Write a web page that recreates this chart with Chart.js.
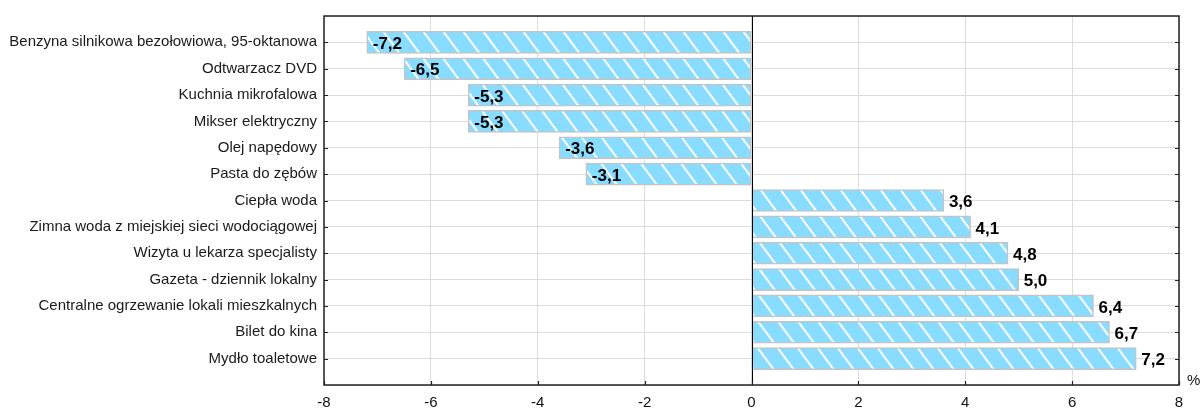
<!DOCTYPE html>
<html>
<head>
<meta charset="utf-8">
<script src="https://cdn.jsdelivr.net/npm/chart.js@4/dist/chart.umd.min.js"></script>
<style>
  html, body { margin: 0; padding: 0; background: #fff; }
  #wrap { width: 1201px; height: 408px; }
</style>
</head>
<body>
<div id="wrap"><canvas id="priceChart" width="1201" height="408"></canvas></div>
<script>
// Categories and values (% change)
const categories = [
    'Benzyna silnikowa bezołowiowa, 95-oktanowa',
    'Odtwarzacz DVD',
    'Kuchnia mikrofalowa',
    'Mikser elektryczny',
    'Olej napędowy',
    'Pasta do zębów',
    'Ciepła woda',
    'Zimna woda z miejskiej sieci wodociągowej',
    'Wizyta u lekarza specjalisty',
    'Gazeta - dziennik lokalny',
    'Centralne ogrzewanie lokali mieszkalnych',
    'Bilet do kina',
    'Mydło toaletowe'
];
const values = [-7.2, -6.5, -5.3, -5.3, -3.6, -3.1, 3.6, 4.1, 4.8, 5.0, 6.4, 6.7, 7.2];
const xTicks = [-8, -6, -4, -2, 0, 2, 4, 6, 8];
const unitLabel = '%';

// blank slot above and below, like the original axis
const paddedLabels = [''].concat(categories, ['']);
const paddedValues = [null].concat(values, [null]);

const FONT = '"Liberation Sans", Arial, sans-serif';
const barBlue = '#88dcff';

// striped fill
function makeStripes() {
    const w = 20, h = 27;
    const c = document.createElement('canvas');
    c.width = w; c.height = h;
    const g = c.getContext('2d');
    g.fillStyle = barBlue;
    g.fillRect(0, 0, w, h);
    g.strokeStyle = '#ffffff';
    g.lineWidth = 2;
    [-w, 0, w].forEach(function(off) {
        g.beginPath();
        g.moveTo(off - w, -h);
        g.lineTo(off + 2 * w, 2 * h);
        g.stroke();
    });
    return g.createPattern(c, 'repeat');
}

const framePlugin = {
    id: 'frame',
    afterDatasetsDraw: function(chart) {
        const ctx = chart.ctx;
        const a = chart.chartArea;
        const xs = chart.scales.x;
        const ys = chart.scales.y;
        ctx.save();

        // zero line
        const x0 = Math.round(xs.getPixelForValue(0)) + 0.5;
        ctx.strokeStyle = '#000';
        ctx.lineWidth = 1;
        ctx.beginPath();
        ctx.moveTo(x0, a.top);
        ctx.lineTo(x0, a.bottom);
        ctx.stroke();

        // box
        ctx.strokeStyle = '#222';
        ctx.lineWidth = 1.5;
        ctx.strokeRect(a.left, a.top, a.right - a.left, a.bottom - a.top);

        // inward ticks
        ctx.lineWidth = 1.2;
        ctx.beginPath();
        for (let i = 1; i <= categories.length; i++) {
            const y = Math.round(ys.getPixelForValue(i)) + 0.5;
            ctx.moveTo(a.left, y); ctx.lineTo(a.left + 4, y);
            ctx.moveTo(a.right, y); ctx.lineTo(a.right - 4, y);
        }
        xTicks.forEach(function(v) {
            const x = Math.round(xs.getPixelForValue(v)) + 0.5;
            ctx.moveTo(x, a.bottom); ctx.lineTo(x, a.bottom - 4);
        });
        ctx.stroke();

        // value labels
        const meta = chart.getDatasetMeta(0);
        ctx.fillStyle = '#000';
        ctx.font = 'bold 17px ' + FONT;
        ctx.textAlign = 'left';
        ctx.textBaseline = 'middle';
        meta.data.forEach(function(bar, i) {
            const v = paddedValues[i];
            if (v === null) return;
            const txt = v.toFixed(1).replace('.', ',');
            const tx = v < 0 ? bar.x + 6 : bar.x + 5;
            ctx.fillText(txt, tx, bar.y + 2);
        });

        // unit
        ctx.font = '15px ' + FONT;
        ctx.fillStyle = '#111';
        ctx.fillText(unitLabel, a.right + 8, a.bottom - 4);
        ctx.restore();
    }
};

const ctx = document.getElementById('priceChart').getContext('2d');
new Chart(ctx, {
    type: 'bar',
    data: {
        labels: paddedLabels,
        datasets: [{
            data: paddedValues,
            backgroundColor: makeStripes(),
            borderColor: '#c4c4c4',
            borderWidth: 1.5,
            borderSkipped: false,
            barThickness: 22
        }]
    },
    options: {
        indexAxis: 'y',
        responsive: false,
        animation: false,
        layout: {
            padding: { top: 12, right: 22, left: 0, bottom: 0 }
        },
        plugins: {
            legend: { display: false },
            tooltip: { enabled: false }
        },
        scales: {
            x: {
                min: -8,
                max: 8,
                afterFit: function(scale) { scale.height = 23; },
                afterBuildTicks: function(scale) {
                    scale.ticks = xTicks.map(function(v) { return { value: v }; });
                },
                border: { display: false },
                grid: {
                    drawTicks: false,
                    color: '#dcdcdc',
                    lineWidth: 1
                },
                ticks: {
                    padding: 9,
                    color: '#111',
                    font: { family: FONT, size: 15 },
                    callback: function(value) { return String(value); }
                }
            },
            y: {
                offset: false,
                afterFit: function(scale) { scale.width = 324; },
                border: { display: false },
                grid: {
                    offset: false,
                    drawTicks: false,
                    color: '#dcdcdc',
                    lineWidth: 1
                },
                ticks: {
                    padding: 7,
                    autoSkip: false,
                    color: '#1a1a1a',
                    font: { family: FONT, size: 15 }
                }
            }
        }
    },
    plugins: [framePlugin]
});
</script>
</body>
</html>
